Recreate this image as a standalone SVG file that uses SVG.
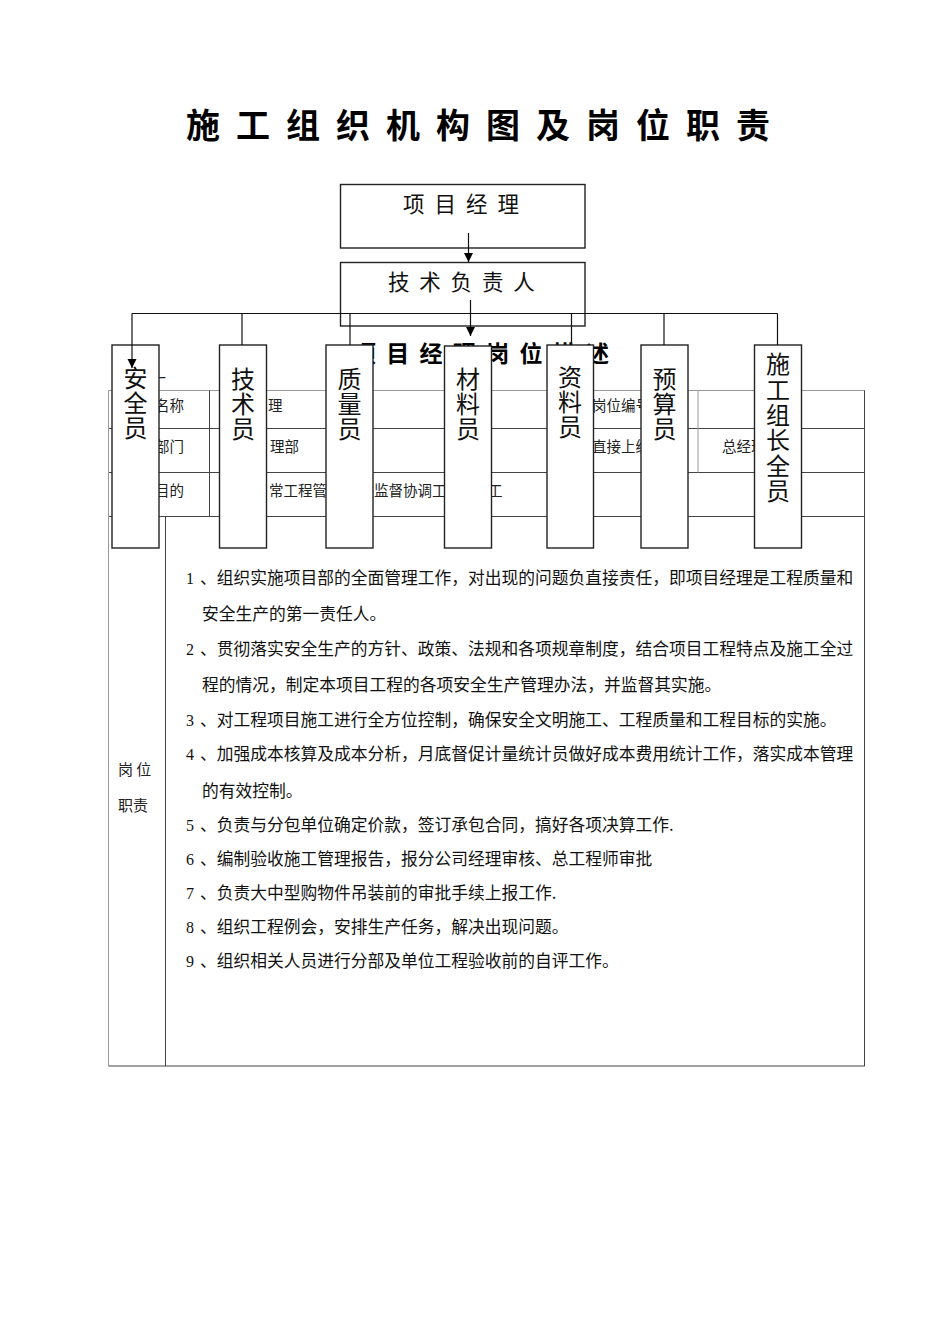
<svg xmlns="http://www.w3.org/2000/svg" width="950" height="1344" viewBox="0 0 950 1344">
<defs>
<marker id="arr" markerWidth="10" markerHeight="10" refX="9" refY="4.5" orient="auto" markerUnits="userSpaceOnUse"><path d="M0,0 L9,4.5 L0,9 z" fill="#000"/></marker>
<style>
.cjk{font-family:'Noto Sans CJK SC',sans-serif;}
.num{font-family:'Liberation Serif',serif;font-size:16px;fill:#111}
.t{font-size:16.75px;fill:#111}
.tb{font-size:14.5px;fill:#222}
.box{fill:#fff;stroke:#222;stroke-width:1.4}
.top{fill:none;stroke:#222;stroke-width:1.4}
.lbl{font-size:24px;text-anchor:middle;fill:#111}
.ln{stroke:#444;stroke-width:1;fill:none}
.lg{stroke:#999;stroke-width:1;fill:none}
.c{stroke:#111;stroke-width:1.2;fill:none}
</style>
</defs>
<rect x="0" y="0" width="950" height="1344" fill="#fff"/>
<text id="title" x="186" y="138" class="cjk" font-size="34" font-weight="bold" letter-spacing="16" fill="#000">施工组织机构图及岗位职责</text>

<g id="table">
<line class="lg" x1="108.5" y1="390.5" x2="865" y2="390.5"/>
<line class="ln" x1="108.5" y1="428.5" x2="865" y2="428.5"/>
<line class="ln" x1="108.5" y1="472.5" x2="865" y2="472.5"/>
<line class="ln" x1="108.5" y1="516.5" x2="865" y2="516.5"/>
<line class="ln" x1="108.5" y1="1066" x2="865" y2="1066"/>
<line class="lg" x1="108.5" y1="390.5" x2="108.5" y2="1066"/>
<line class="ln" x1="864.5" y1="390.5" x2="864.5" y2="1066"/>
<line class="ln" x1="165.5" y1="516.5" x2="165.5" y2="1066"/>
<line class="ln" x1="209.5" y1="390.5" x2="209.5" y2="516.5"/>
<line class="lg" x1="698" y1="390.5" x2="698" y2="472.5"/>
<text class="cjk" x="152" y="383" font-size="14" fill="#222">一</text>
<text class="cjk tb" x="155" y="410.5">名称</text>
<text class="cjk tb" x="268" y="410.5">理</text>
<text class="cjk tb" x="592" y="410.5">岗位编号</text>
<text class="cjk tb" x="155" y="452">部门</text>
<text class="cjk tb" x="270" y="452">理部</text>
<text class="cjk tb" x="592" y="452">直接上级</text>
<text class="cjk tb" x="722" y="452">总经理</text>
<text class="cjk tb" x="155" y="496">目的</text>
<text class="cjk tb" x="269" y="496">常工程管</text>
<text class="cjk tb" x="374" y="496">监督协调工</text>
<text class="cjk tb" x="488" y="496">工</text>
<text class="cjk" x="118" y="775" font-size="15" fill="#222">岗 位</text>
<text class="cjk" x="118" y="811" font-size="15" fill="#222">职责</text>
<text class="num" x="186" y="584">1</text>
<text class="cjk t" x="200" y="584">、组织实施项目部的全面管理工作，对出现的问题负直接责任，即项目经理是工程质量和</text>
<text class="cjk t" x="202" y="620">安全生产的第一责任人。</text>
<text class="num" x="186" y="655">2</text>
<text class="cjk t" x="200" y="655">、贯彻落实安全生产的方针、政策、法规和各项规章制度，结合项目工程特点及施工全过</text>
<text class="cjk t" x="202" y="691">程的情况，制定本项目工程的各项安全生产管理办法，并监督其实施。</text>
<text class="num" x="186" y="726">3</text>
<text class="cjk t" x="200" y="726">、对工程项目施工进行全方位控制，确保安全文明施工、工程质量和工程目标的实施。</text>
<text class="num" x="186" y="760">4</text>
<text class="cjk t" x="200" y="760">、加强成本核算及成本分析，月底督促计量统计员做好成本费用统计工作，落实成本管理</text>
<text class="cjk t" x="202" y="797">的有效控制。</text>
<text class="num" x="186" y="831">5</text>
<text class="cjk t" x="200" y="831">、负责与分包单位确定价款，签订承包合同，搞好各项决算工作.</text>
<text class="num" x="186" y="865">6</text>
<text class="cjk t" x="200" y="865">、编制验收施工管理报告，报分公司经理审核、总工程师审批</text>
<text class="num" x="186" y="899">7</text>
<text class="cjk t" x="200" y="899">、负责大中型购物件吊装前的审批手续上报工作.</text>
<text class="num" x="186" y="933">8</text>
<text class="cjk t" x="200" y="933">、组织工程例会，安排生产任务，解决出现问题。</text>
<text class="num" x="186" y="967">9</text>
<text class="cjk t" x="200" y="967">、组织相关人员进行分部及单位工程验收前的自评工作。</text>
</g>

<text id="subtitle" x="353" y="362" class="cjk" font-size="23" font-weight="bold" letter-spacing="10.3" fill="#000">项目经理岗位描述</text>

<g id="n-anquan"><rect class="box" x="112" y="345" width="47" height="203"/>
<text class="cjk lbl"><tspan x="135.5" y="387">安</tspan><tspan x="135.5" y="412">全</tspan><tspan x="135.5" y="437">员</tspan></text></g>
<g id="n-jishu"><rect class="box" x="219.5" y="345" width="47" height="203"/>
<text class="cjk lbl"><tspan x="243" y="388">技</tspan><tspan x="243" y="413">术</tspan><tspan x="243" y="438">员</tspan></text></g>
<g id="n-zhiliang"><rect class="box" x="326" y="345" width="47" height="203"/>
<text class="cjk lbl"><tspan x="349.5" y="388">质</tspan><tspan x="349.5" y="413">量</tspan><tspan x="349.5" y="438">员</tspan></text></g>
<g id="n-cailiao"><rect class="box" x="444.5" y="346" width="47" height="202"/>
<text class="cjk lbl"><tspan x="468" y="388">材</tspan><tspan x="468" y="413">料</tspan><tspan x="468" y="438">员</tspan></text></g>
<g id="n-ziliao"><rect class="box" x="547" y="345" width="46.5" height="203"/>
<text class="cjk lbl"><tspan x="570" y="386">资</tspan><tspan x="570" y="411">料</tspan><tspan x="570" y="436">员</tspan></text></g>
<g id="n-yusuan"><rect class="box" x="641" y="345" width="47" height="203"/>
<text class="cjk lbl"><tspan x="664.5" y="388">预</tspan><tspan x="664.5" y="413">算</tspan><tspan x="664.5" y="438">员</tspan></text></g>
<g id="n-shigong"><rect class="box" x="754.5" y="345" width="47" height="203"/>
<text class="cjk lbl"><tspan x="778" y="373">施</tspan><tspan x="778" y="398.5">工</tspan><tspan x="778" y="424">组</tspan><tspan x="778" y="449">长</tspan><tspan x="778" y="474.5">全</tspan><tspan x="778" y="500">员</tspan></text></g>

<g id="n-xmjl"><rect class="top" x="340.5" y="184.5" width="244.5" height="63.5"/>
<text x="403" y="212" class="cjk" font-size="21.5" letter-spacing="10" fill="#111">项目经理</text></g>
<g id="n-jsfzr"><rect class="top" x="340.5" y="262.5" width="244.5" height="63.5"/>
<text x="388" y="290" class="cjk" font-size="21.5" letter-spacing="9.8" fill="#111">技术负责人</text></g>

<g id="connectors">
<line class="c" x1="468.5" y1="233" x2="468.5" y2="262" marker-end="url(#arr)"/>
<line class="c" x1="470.5" y1="300" x2="470.5" y2="336" marker-end="url(#arr)"/>
<line class="c" x1="132" y1="313.5" x2="777.5" y2="313.5"/>
<line class="c" x1="132" y1="313.5" x2="132" y2="368" marker-end="url(#arr)"/>
<line class="c" x1="242" y1="313.5" x2="242" y2="345"/>
<line class="c" x1="350" y1="313.5" x2="350" y2="345"/>
<line class="c" x1="571.5" y1="313.5" x2="571.5" y2="345"/>
<line class="c" x1="664" y1="313.5" x2="664" y2="345"/>
<line class="c" x1="777.5" y1="313.5" x2="777.5" y2="345"/>
</g>
</svg>
